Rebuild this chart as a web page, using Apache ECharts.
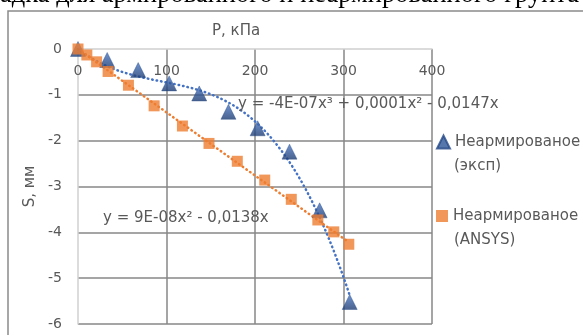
<!DOCTYPE html>
<html>
<head>
<meta charset="utf-8">
<script src="https://cdn.jsdelivr.net/npm/echarts@6/dist/echarts.min.js"></script>
<style>
  html, body { margin: 0; padding: 0; background: #ffffff; }
  #chart { width: 583px; height: 335px; }
</style>
</head>
<body>
<div id="chart"></div>
<script>
// Settlement S (mm) versus load P (kPa)
const expName = 'Неармированое';
const expSub = '(эксп)';
const ansysName = 'Неармированое ';
const ansysSub = '(ANSYS)';

const expP = [0, 33, 68, 103, 137, 170, 203, 239, 273, 307];
const expS = [0, -0.24, -0.46, -0.75, -0.97, -1.37, -1.73, -2.24, -3.52, -5.52];

const ansysP = [0, 10, 21, 34, 57, 86, 118, 148, 180, 211, 241, 271, 289, 306];
const ansysS = [0, -0.13, -0.28, -0.49, -0.79, -1.24, -1.68, -2.06, -2.45, -2.86, -3.28, -3.73, -3.99, -4.26];

const xTicks = [0, 100, 200, 300, 400];
const yTicks = [-6, -5, -4, -3, -2, -1, 0];

const expEquation = 'y = -4E-07x³ + 0,0001x² - 0,0147x';
const ansysEquation = 'y = 9E-08x² - 0,0138x';

// Least-squares polynomial through the origin (terms x, x², …, x^deg)
function fitThroughOrigin(xs, ys, deg) {
  const n = deg;
  const M = [];
  for (let i = 0; i < n; i++) {
    M.push(new Array(n + 1).fill(0));
  }
  for (let k = 0; k < xs.length; k++) {
    const x = xs[k], y = ys[k];
    for (let i = 0; i < n; i++) {
      const xi = Math.pow(x, i + 1);
      for (let j = 0; j < n; j++) M[i][j] += xi * Math.pow(x, j + 1);
      M[i][n] += xi * y;
    }
  }
  for (let c = 0; c < n; c++) {
    let p = c;
    for (let r = c + 1; r < n; r++) if (Math.abs(M[r][c]) > Math.abs(M[p][c])) p = r;
    [M[c], M[p]] = [M[p], M[c]];
    for (let r = 0; r < n; r++) {
      if (r === c) continue;
      const f = M[r][c] / M[c][c];
      for (let j = c; j <= n; j++) M[r][j] -= f * M[c][j];
    }
  }
  return M.map((row, i) => row[n] / row[i]);
}

function trendPoints(xs, ys, deg) {
  const coef = fitThroughOrigin(xs, ys, deg);
  const xMax = Math.max.apply(null, xs);
  const pts = [];
  const steps = 80;
  for (let s = 0; s <= steps; s++) {
    const x = xMax * s / steps;
    let y = 0;
    coef.forEach((c, i) => { y += c * Math.pow(x, i + 1); });
    pts.push([x, y]);
  }
  return pts;
}

const pair = (xs, ys) => xs.map((x, i) => [x, ys[i]]);

const textColor = '#595959';
const gridColor = '#878787';
const axisColor = '#d0d0d0';
const font = '"DejaVu Sans"';

const triColor = new echarts.graphic.LinearGradient(0, 0, 0, 1, [
  { offset: 0, color: '#4a78c6' },
  { offset: 1, color: '#1c3a70' }
]);

const chart = echarts.init(document.getElementById('chart'), null, { renderer: 'canvas' });

const legendBase = {
  orient: 'vertical',
  left: 436,
  padding: 0,
  itemWidth: 13,
  itemHeight: 13,
  selectedMode: false,
  textStyle: {
    fontFamily: font,
    fontSize: 15,
    color: textColor,
    lineHeight: 24
  }
};

chart.setOption({
  animation: false,
  backgroundColor: '#ffffff',
  title: {
    text: 'P, кПа',
    left: 212,
    top: 24,
    padding: 0,
    textStyle: { fontFamily: font, fontSize: 15, fontWeight: 'normal', color: textColor }
  },
  grid: { left: 78, right: 151, top: 49, bottom: 11 },
  legend: [
    Object.assign({}, legendBase, {
      top: 130,
      data: [{ name: expName, icon: 'triangle', itemStyle: { color: '#2c5597' } }]
    }),
    Object.assign({}, legendBase, {
      top: 204,
      itemWidth: 12,
      itemHeight: 12,
      data: [{ name: ansysName, icon: 'rect' }],
      formatter: () => expName
    })
  ],
  xAxis: {
    type: 'value',
    position: 'top',
    min: xTicks[0],
    max: xTicks[xTicks.length - 1],
    interval: 100,
    axisLine: { show: true, onZero: false, lineStyle: { color: axisColor, width: 1.5 } },
    axisTick: { show: false },
    axisLabel: { inside: true, margin: 15, fontFamily: font, fontSize: 14, color: textColor },
    splitLine: { show: true, showMinLine: false, lineStyle: { color: gridColor, width: 1.5 } }
  },
  yAxis: {
    type: 'value',
    min: yTicks[0],
    max: yTicks[yTicks.length - 1],
    interval: 1,
    name: 'S, мм',
    nameLocation: 'middle',
    nameGap: 37,
    nameTextStyle: { fontFamily: font, fontSize: 15, color: textColor },
    axisLine: { show: true, lineStyle: { color: axisColor, width: 1.5 } },
    axisTick: { show: false },
    axisLabel: { margin: 16, fontFamily: font, fontSize: 14, color: textColor },
    splitLine: { show: true, showMaxLine: false, lineStyle: { color: gridColor, width: 1.5 } }
  },
  series: [
    {
      name: 'trend-exp',
      type: 'line',
      data: trendPoints(expP, expS, 3),
      showSymbol: false,
      symbol: 'none',
      z: 2,
      lineStyle: { color: '#4472c4', width: 2.5, type: [0.5, 4], cap: 'round' },
      silent: true
    },
    {
      name: 'trend-ansys',
      type: 'line',
      data: trendPoints(ansysP, ansysS, 2),
      showSymbol: false,
      symbol: 'none',
      z: 2,
      lineStyle: { color: '#ed7d31', width: 2.5, type: [0.5, 4], cap: 'round' },
      silent: true
    },
    {
      name: expName,
      type: 'scatter',
      data: pair(expP, expS),
      symbol: 'triangle',
      symbolSize: 15,
      z: 3,
      itemStyle: { color: triColor, borderColor: '#254a87', borderWidth: 0.5 }
    },
    {
      name: ansysName,
      type: 'scatter',
      data: pair(ansysP, ansysS),
      symbol: 'rect',
      symbolSize: 11,
      z: 4,
      itemStyle: { color: '#ed7d31' }
    }
  ],
  graphic: [
    {
      type: 'rect',
      silent: true,
      shape: { x: 8, y: 11, width: 700, height: 400 },
      style: { fill: 'none', stroke: '#8a8a8a', lineWidth: 1.5 }
    },
    {
      type: 'text',
      silent: true,
      x: 579,
      y: 9,
      style: {
        text: 'адка для армированного и неармированного грунта',
        font: '26.5px "Liberation Serif"',
        fill: '#000000',
        align: 'right',
        verticalAlign: 'bottom'
      }
    },
    {
      type: 'text',
      silent: true,
      x: 238,
      y: 104,
      z: 10,
      style: { text: expEquation, font: '15px "DejaVu Sans"', fill: textColor, verticalAlign: 'middle' }
    },
    {
      type: 'text',
      silent: true,
      x: 103,
      y: 218,
      z: 10,
      style: { text: ansysEquation, font: '15px "DejaVu Sans"', fill: textColor, verticalAlign: 'middle' }
    },
    {
      type: 'text',
      silent: true,
      x: 454,
      y: 166,
      style: { text: expSub, font: '15px "DejaVu Sans"', fill: textColor, verticalAlign: 'middle' }
    },
    {
      type: 'text',
      silent: true,
      x: 454,
      y: 240,
      style: { text: ansysSub, font: '15px "DejaVu Sans"', fill: textColor, verticalAlign: 'middle' }
    }
  ]
});
</script>
</body>
</html>
